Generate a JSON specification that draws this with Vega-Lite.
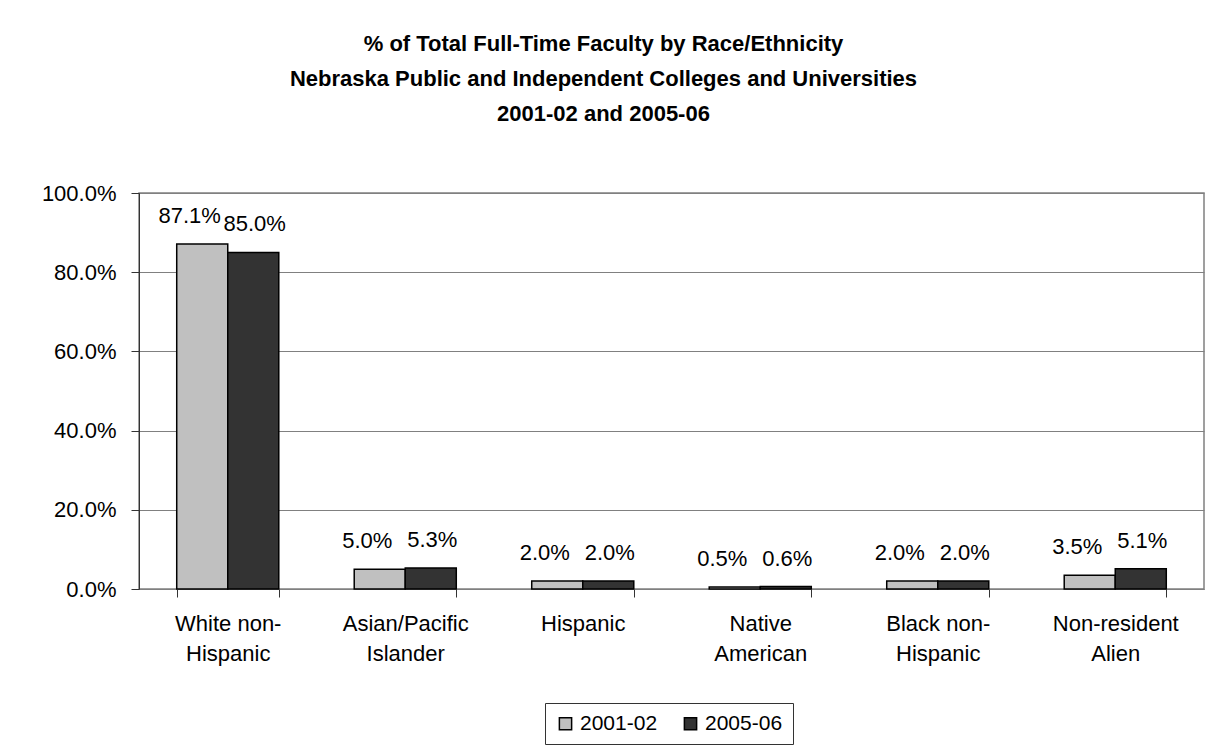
{
  "$schema": "https://vega.github.io/schema/vega-lite/v6.json",
  "width": 1065,
  "height": 396,
  "autosize": {"type": "none"},
  "padding": {"left": 139, "top": 193, "right": 3, "bottom": 161},
  "background": "white",
  "title": {
    "text": ["% of Total Full-Time Faculty by Race/Ethnicity", "Nebraska Public and Independent Colleges and Universities", "2001-02 and 2005-06"],
    "font": "Liberation Sans",
    "fontSize": 22,
    "fontWeight": "bold",
    "color": "black",
    "lineHeight": 35,
    "anchor": "middle",
    "dx": -68,
    "offset": 56
  },
  "data": {
    "values": [
      {"group": "White non-Hispanic", "year": "2001-02", "pct": 0.871},
      {"group": "White non-Hispanic", "year": "2005-06", "pct": 0.850},
      {"group": "Asian/Pacific Islander", "year": "2001-02", "pct": 0.050},
      {"group": "Asian/Pacific Islander", "year": "2005-06", "pct": 0.053},
      {"group": "Hispanic", "year": "2001-02", "pct": 0.020},
      {"group": "Hispanic", "year": "2005-06", "pct": 0.020},
      {"group": "Native American", "year": "2001-02", "pct": 0.005},
      {"group": "Native American", "year": "2005-06", "pct": 0.006},
      {"group": "Black non-Hispanic", "year": "2001-02", "pct": 0.020},
      {"group": "Black non-Hispanic", "year": "2005-06", "pct": 0.020},
      {"group": "Non-resident Alien", "year": "2001-02", "pct": 0.035},
      {"group": "Non-resident Alien", "year": "2005-06", "pct": 0.051}
    ]
  },
  "encoding": {
    "x": {
      "field": "group",
      "type": "nominal",
      "sort": null,
      "scale": {"paddingInner": 0.425, "paddingOuter": 0.2125},
      "axis": {
        "title": null,
        "labelAngle": 0,
        "labelFont": "Liberation Sans",
        "labelFontSize": 22,
        "labelColor": "black",
        "labelLineHeight": 30,
        "labelPadding": 16,
        "labelBaseline": "top",
        "tickSize": 8,
        "tickColor": "#333333",
        "tickBand": "extent",
        "domainColor": "#808080",
        "labelExpr": "datum.value == 'White non-Hispanic' ? ['White non-', 'Hispanic'] : datum.value == 'Asian/Pacific Islander' ? ['Asian/Pacific', 'Islander'] : datum.value == 'Native American' ? ['Native', 'American'] : datum.value == 'Black non-Hispanic' ? ['Black non-', 'Hispanic'] : datum.value == 'Non-resident Alien' ? ['Non-resident', 'Alien'] : datum.value"
      }
    },
    "y": {
      "field": "pct",
      "type": "quantitative",
      "scale": {"domain": [0, 1], "nice": false},
      "axis": {
        "title": null,
        "values": [0, 0.2, 0.4, 0.6, 0.8, 1],
        "format": ".1%",
        "labelFont": "Liberation Sans",
        "labelFontSize": 22,
        "labelColor": "black",
        "labelPadding": 15,
        "tickSize": 8,
        "tickColor": "#333333",
        "domainColor": "#333333",
        "gridColor": "#808080",
        "gridOpacity": 1,
        "gridWidth": 1
      }
    }
  },
  "layer": [
    {
      "mark": {"type": "bar", "stroke": "black", "strokeWidth": 1.5},
      "encoding": {
        "xOffset": {"field": "year", "type": "nominal", "scale": {"paddingInner": 0, "paddingOuter": 0}},
        "color": {
          "field": "year",
          "type": "nominal",
          "scale": {"domain": ["2001-02", "2005-06"], "range": ["#C0C0C0", "#333333"]},
          "legend": {
            "title": null,
            "orient": "none",
            "direction": "horizontal",
            "legendX": 406,
            "legendY": 510,
            "symbolType": "square",
            "symbolSize": 150,
            "symbolStrokeColor": "black",
            "symbolStrokeWidth": 1.5,
            "labelFont": "Liberation Sans",
            "labelFontSize": 21,
            "labelColor": "black",
            "columnPadding": 22,
            "padding": 10,
            "strokeColor": "#333333"
          }
        }
      }
    },
    {
      "mark": {"type": "text", "baseline": "bottom", "dy": -16, "font": "Liberation Sans", "fontSize": 22, "color": "black"},
      "encoding": {
        "xOffset": {"field": "year", "type": "nominal", "scale": {"range": [13, 78], "paddingInner": 0, "paddingOuter": 0}},
        "text": {"field": "pct", "type": "quantitative", "format": ".1%"}
      }
    }
  ],
  "resolve": {"scale": {"xOffset": "independent"}},
  "config": {
    "view": {"stroke": "#808080", "strokeWidth": 1.5},
    "axis": {"grid": true},
    "axisX": {"grid": false}
  }
}
